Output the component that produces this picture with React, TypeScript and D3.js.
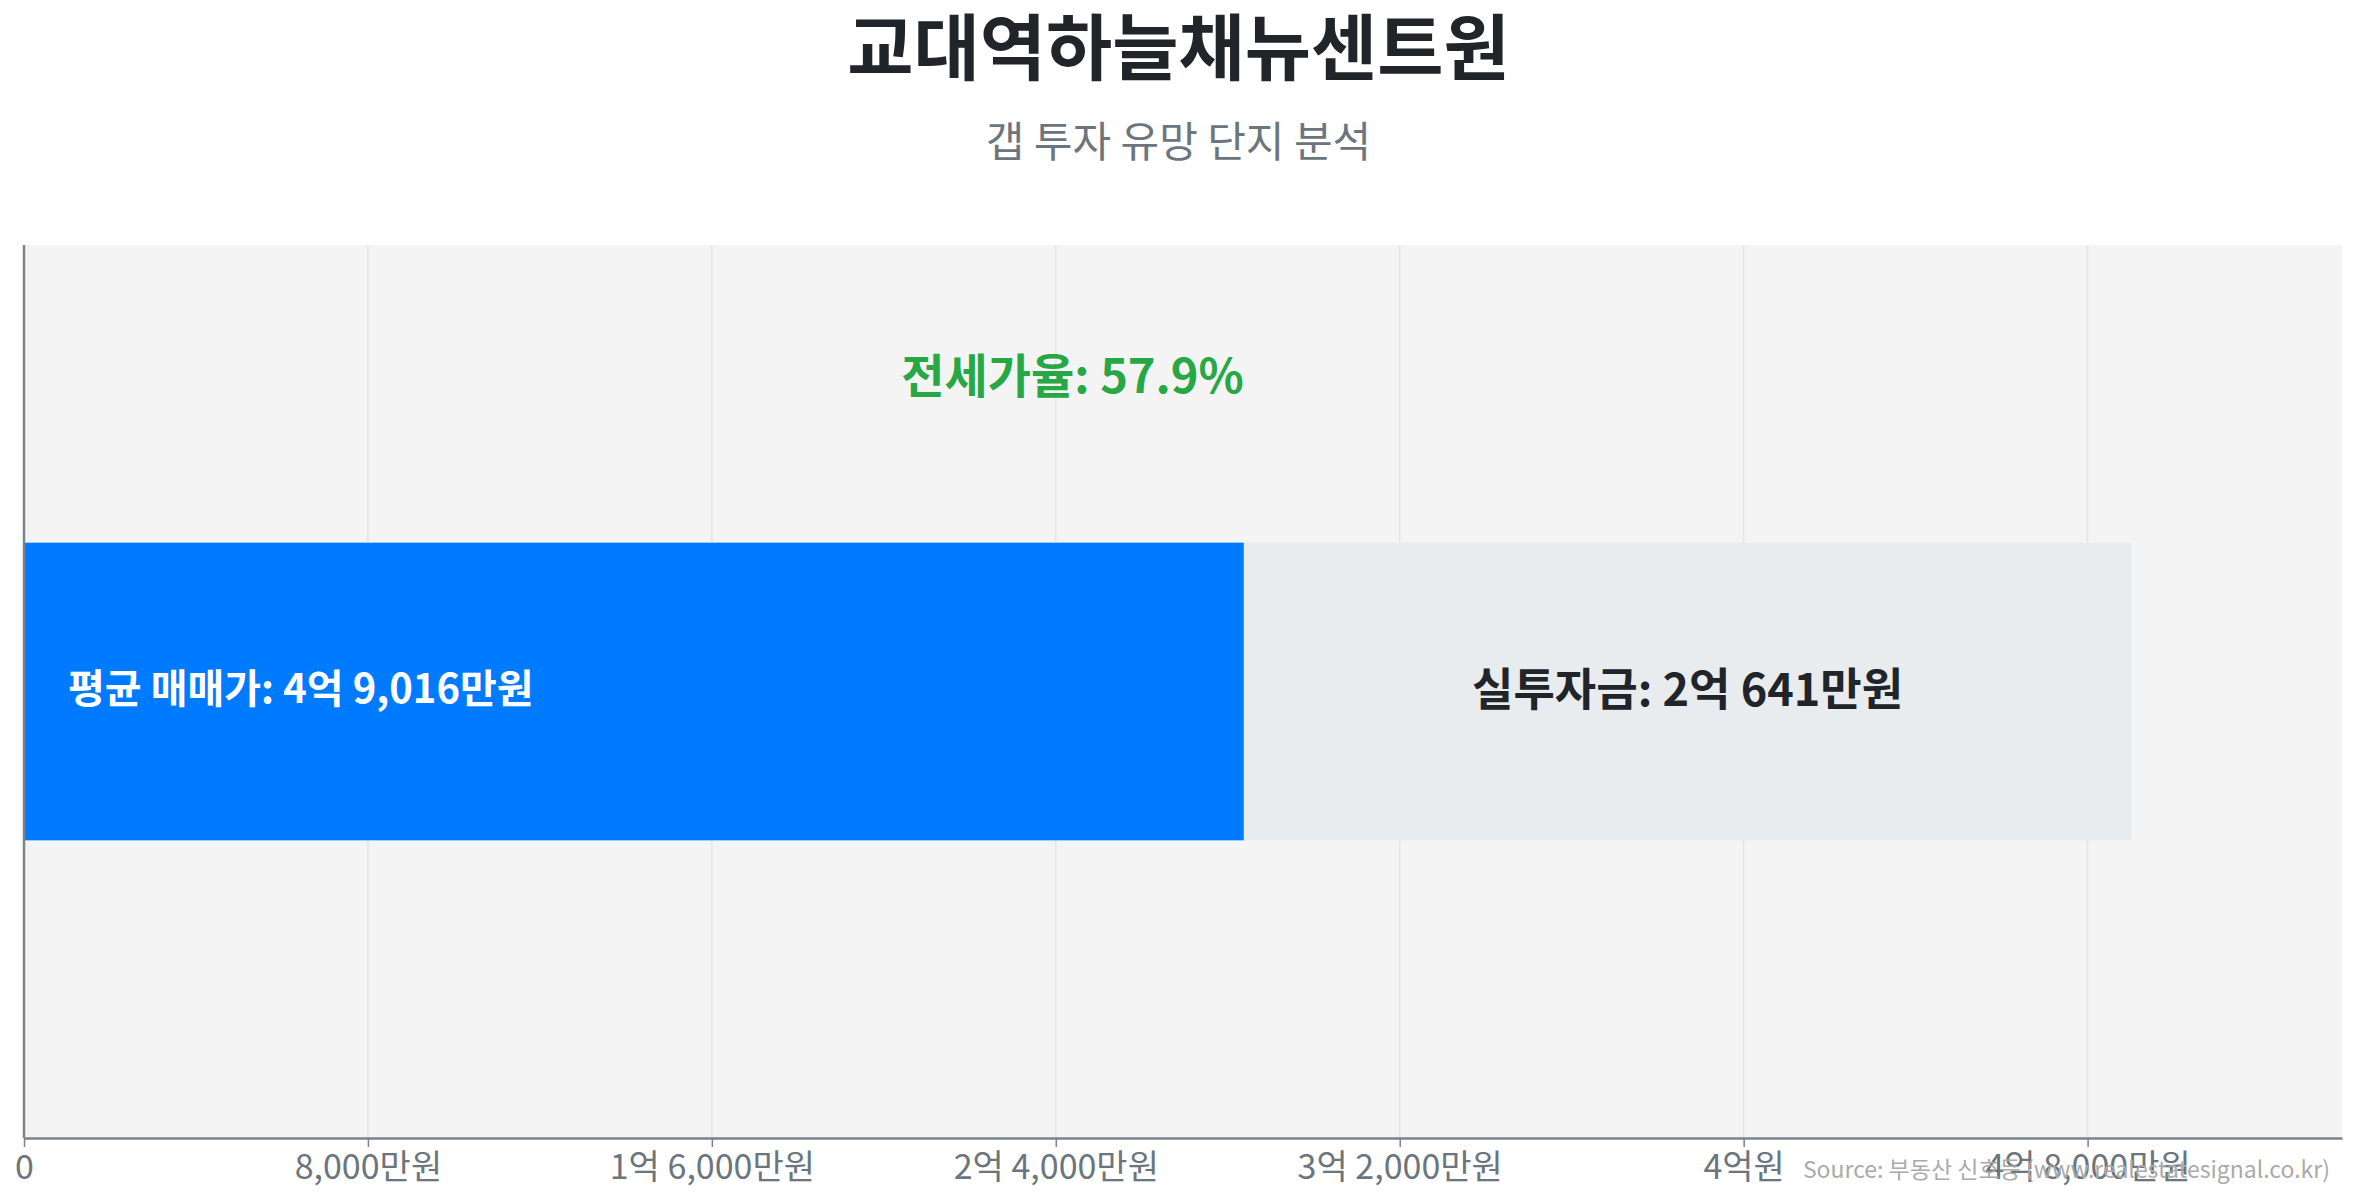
import { useRef, useEffect } from "react";
import { select, scaleLinear, scaleBand, axisBottom, range } from "d3";

// Data (values in 만원)
const complexes = ["교대역하늘채뉴센트원"];
const avgPrice = [49016];
const jeonsePrice = [28375];
const gapCapital = [20641];
const tickValues = [0, 8000, 16000, 24000, 32000, 40000, 48000];

const titleText = "교대역하늘채뉴센트원";
const subtitleText = "갭 투자 유망 단지 분석";
const sourceText = "Source: 부동산 신호등 (www.realestatesignal.co.kr)";

const W = 2357;
const H = 1200;
const FONT = "'Noto Sans CJK KR', 'Noto Sans', sans-serif";

// 억/만원 formatting
const fmtWon = (v: number) => {
  if (v === 0) return "0";
  const eok = Math.floor(v / 10000);
  const man = v % 10000;
  if (eok > 0 && man > 0) return `${eok}억 ${man.toLocaleString("en-US")}만원`;
  if (eok > 0) return `${eok}억원`;
  return `${man.toLocaleString("en-US")}만원`;
};

export default function App() {
  const svgRef = useRef<SVGSVGElement | null>(null);

  useEffect(() => {
    const svg = select(svgRef.current);
    svg.selectAll("*").remove();

    const left = 24;
    const right = 2342;
    const top = 245;
    const bottom = 1138;

    // Scales
    const xScale = scaleLinear()
      .domain([0, Math.max(...avgPrice) * 1.1])
      .range([left, right]);

    const yScale = scaleBand<string>()
      .domain(complexes)
      .range([top, bottom])
      .paddingInner(0)
      .paddingOuter(1);

    // Plot background
    svg
      .append("rect")
      .attr("x", left)
      .attr("y", top)
      .attr("width", right - left)
      .attr("height", bottom - top)
      .attr("fill", "#f4f4f4");

    // Grid lines
    svg
      .append("g")
      .selectAll("line")
      .data(tickValues.slice(1))
      .join("line")
      .attr("x1", (d) => xScale(d))
      .attr("x2", (d) => xScale(d))
      .attr("y1", top)
      .attr("y2", bottom)
      .attr("stroke", "#e4e4e4")
      .attr("stroke-width", 1.5);

    const rows = range(complexes.length);

    // Jeonse part (blue)
    svg
      .append("g")
      .selectAll("rect")
      .data(rows)
      .join("rect")
      .attr("x", xScale(0))
      .attr("y", (i) => yScale(complexes[i])!)
      .attr("width", (i) => xScale(jeonsePrice[i]) - xScale(0))
      .attr("height", yScale.bandwidth())
      .attr("fill", "#007bff");

    // Gap part (grey)
    svg
      .append("g")
      .selectAll("rect")
      .data(rows)
      .join("rect")
      .attr("x", (i) => xScale(jeonsePrice[i]))
      .attr("y", (i) => yScale(complexes[i])!)
      .attr("width", (i) => xScale(jeonsePrice[i] + gapCapital[i]) - xScale(jeonsePrice[i]))
      .attr("height", yScale.bandwidth())
      .attr("fill", "#e9ecef");

    // Labels inside and above bars
    rows.forEach((i) => {
      const y0 = yScale(complexes[i])!;
      const yc = y0 + yScale.bandwidth() / 2;
      svg
        .append("text")
        .attr("x", xScale(0) + 44)
        .attr("y", yc - 6)
        .attr("dominant-baseline", "central")
        .attr("font-family", FONT)
        .attr("font-size", 40)
        .attr("font-weight", 700)
        .attr("fill", "#ffffff")
        .text(`평균 매매가: ${fmtWon(avgPrice[i])}`);

      svg
        .append("text")
        .attr("x", (xScale(jeonsePrice[i]) + xScale(avgPrice[i])) / 2)
        .attr("y", yc - 5)
        .attr("text-anchor", "middle")
        .attr("dominant-baseline", "central")
        .attr("font-family", FONT)
        .attr("font-size", 45)
        .attr("font-weight", 700)
        .attr("fill", "#212529")
        .text(`실투자금: ${fmtWon(gapCapital[i])}`);

      const ratio = (jeonsePrice[i] / avgPrice[i]) * 100;
      svg
        .append("text")
        .attr("x", xScale(jeonsePrice[i]))
        .attr("y", y0 - yScale.step() * 0.57)
        .attr("text-anchor", "end")
        .attr("dominant-baseline", "central")
        .attr("font-family", FONT)
        .attr("font-size", 47)
        .attr("font-weight", 700)
        .attr("fill", "#28a745")
        .text(`전세가율: ${ratio.toFixed(1)}%`);
    });

    // X axis
    const xAxis = axisBottom(xScale)
      .tickValues(tickValues)
      .tickFormat((d) => fmtWon(+d))
      .tickSize(9)
      .tickSizeOuter(0)
      .tickPadding(8);

    const gx = svg
      .append("g")
      .attr("transform", `translate(0, ${bottom})`)
      .call(xAxis);
    gx.select(".domain").attr("stroke", "#7b838b").attr("stroke-width", 2.5);
    gx.selectAll(".tick line").attr("stroke", "#7b838b").attr("stroke-width", 1.5);
    gx.selectAll(".tick text")
      .attr("font-family", FONT)
      .attr("font-size", 34)
      .attr("fill", "#6c757d");

    // Left axis line
    svg
      .append("line")
      .attr("x1", left)
      .attr("x2", left)
      .attr("y1", top)
      .attr("y2", bottom)
      .attr("stroke", "#7b838b")
      .attr("stroke-width", 2.5);

    // Title & subtitle
    svg
      .append("text")
      .attr("x", W / 2)
      .attr("y", 42)
      .attr("text-anchor", "middle")
      .attr("dominant-baseline", "central")
      .attr("font-family", FONT)
      .attr("font-size", 72)
      .attr("font-weight", 700)
      .attr("fill", "#212529")
      .text(titleText);

    svg
      .append("text")
      .attr("x", W / 2)
      .attr("y", 138)
      .attr("text-anchor", "middle")
      .attr("dominant-baseline", "central")
      .attr("font-family", FONT)
      .attr("font-size", 42)
      .attr("fill", "#6c757d")
      .text(subtitleText);

    // Source note
    svg
      .append("text")
      .attr("x", 2330)
      .attr("y", 1168)
      .attr("text-anchor", "end")
      .attr("dominant-baseline", "central")
      .attr("font-family", FONT)
      .attr("font-size", 23)
      .attr("fill", "#aaaaaa")
      .text(sourceText);
  }, []);

  return (
    <svg
      ref={svgRef}
      width={W}
      height={H}
      style={{ position: "absolute", left: 0, top: 0, background: "#ffffff" }}
    />
  );
}
